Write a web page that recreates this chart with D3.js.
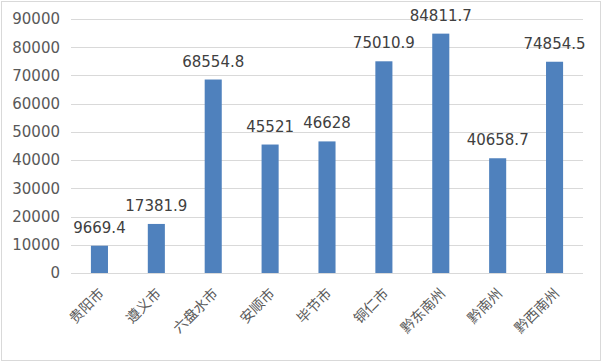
<!DOCTYPE html>
<html>
<head>
<meta charset="utf-8">
<script src="https://cdn.jsdelivr.net/npm/d3@7"></script>
<style>
  body { margin: 0; background: #fff; }
  svg { display: block; }
</style>
</head>
<body>
<div id="chart"></div>
<script>
const cities = ["贵阳市", "遵义市", "六盘水市", "安顺市", "毕节市", "铜仁市", "黔东南州", "黔南州", "黔西南州"]
const values = [9669.4, 17381.9, 68554.8, 45521, 46628, 75010.9, 84811.7, 40658.7, 74854.5]
const yTicks = [0, 10000, 20000, 30000, 40000, 50000, 60000, 70000, 80000, 90000]

const width = 602
const height = 362
const plot = { left: 71, right: 583, top: 19, bottom: 273 }

const svg = d3.select("#chart")
  .append("svg")
  .attr("width", width)
  .attr("height", height)

svg.append("rect")
  .attr("x", 1.5)
  .attr("y", 1.5)
  .attr("width", width - 3)
  .attr("height", height - 3)
  .attr("fill", "#fff")
  .attr("stroke", "#d9d9d9")

const xScale = d3.scaleBand()
  .domain(cities)
  .range([plot.left, plot.right])
  .paddingInner(0.7)
  .paddingOuter(0.35)

const yScale = d3.scaleLinear()
  .domain([0, 90000])
  .range([plot.bottom, plot.top])

// gridlines
svg.append("g")
  .selectAll("line")
  .data(yTicks)
  .enter()
  .append("line")
  .attr("x1", plot.left)
  .attr("x2", plot.right)
  .attr("y1", d => Math.round(yScale(d)) + 0.5)
  .attr("y2", d => Math.round(yScale(d)) + 0.5)
  .attr("stroke", "#d9d9d9")

// y axis labels
const yAxis = d3.axisLeft(yScale)
  .tickValues(yTicks)
  .tickFormat(d3.format("d"))
  .tickSize(0)
  .tickPadding(0)

svg.append("g")
  .attr("transform", `translate(60, 0)`)
  .call(yAxis)
  .call(g => g.select(".domain").remove())
  .selectAll("text")
  .attr("fill", "#595959")
  .style("font-family", "DejaVu Sans")
  .style("font-size", "15px")

// bars
svg.selectAll("rect.bar")
  .data(values)
  .enter()
  .append("rect")
  .attr("class", "bar")
  .attr("x", (d, i) => xScale(cities[i]))
  .attr("y", d => yScale(d))
  .attr("width", xScale.bandwidth())
  .attr("height", d => yScale(0) - yScale(d))
  .attr("fill", "#4f81bd")

// value labels
svg.selectAll("text.value")
  .data(values)
  .enter()
  .append("text")
  .attr("class", "value")
  .attr("x", (d, i) => xScale(cities[i]) + xScale.bandwidth() / 2)
  .attr("y", d => yScale(d) - 13)
  .attr("text-anchor", "middle")
  .attr("fill", "#404040")
  .style("font-family", "DejaVu Sans")
  .style("font-size", "15px")
  .text(d => d)

// x axis
const xAxis = d3.axisBottom(xScale)
  .tickSize(0)
  .tickPadding(0)

const gx = svg.append("g")
  .attr("transform", `translate(0, ${plot.bottom})`)
  .call(xAxis)

gx.select(".domain")
  .attr("d", `M${plot.left},0.5H${plot.right}`)
  .attr("stroke", "#d9d9d9")

gx.selectAll(".tick text")
  .attr("transform", "translate(2, 18) rotate(-45)")
  .attr("text-anchor", "end")
  .attr("dy", "0.35em")
  .attr("y", 0)
  .attr("fill", "#595959")
  .style("font-family", "Noto Sans CJK SC")
  .style("font-size", "14px")
</script>
</body>
</html>
